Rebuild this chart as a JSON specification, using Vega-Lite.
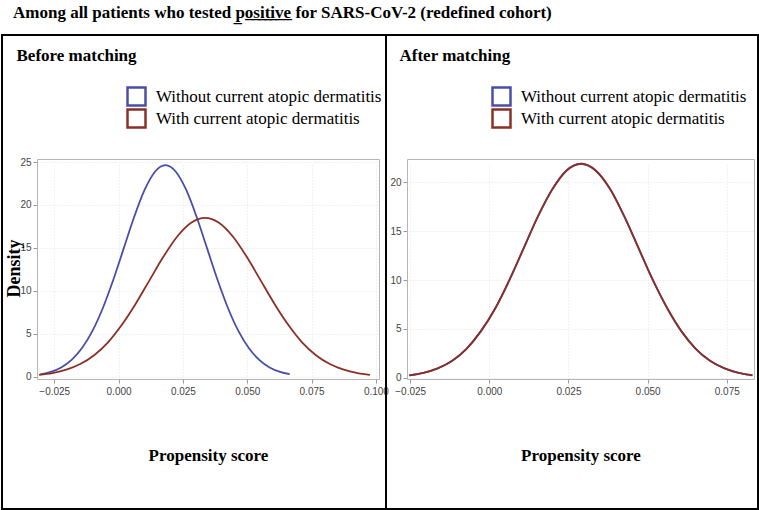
{
  "$schema": "https://vega.github.io/schema/vega-lite/v6.json",
  "background": "white",
  "padding": {"left": 1, "top": 4, "right": 0, "bottom": 0},
  "bounds": "flush",
  "title": {"text": "Among all patients who tested p\u0332o\u0332s\u0332i\u0332t\u0332i\u0332v\u0332e\u0332 for SARS-CoV-2 (redefined cohort)", "anchor": "start", "frame": "group", "dx": 11, "offset": 12, "font": "Liberation Serif", "fontSize": 17, "fontWeight": "bold", "color": "black"},
  "datasets": {
    "before": [
      {"group": "Without current atopic dermatitis", "ps": -0.0304, "density": 0.27},
      {"group": "Without current atopic dermatitis", "ps": -0.02635, "density": 0.56},
      {"group": "Without current atopic dermatitis", "ps": -0.0223, "density": 1.08},
      {"group": "Without current atopic dermatitis", "ps": -0.01825, "density": 1.96},
      {"group": "Without current atopic dermatitis", "ps": -0.0142, "density": 3.33},
      {"group": "Without current atopic dermatitis", "ps": -0.01015, "density": 5.33},
      {"group": "Without current atopic dermatitis", "ps": -0.0061, "density": 8.0},
      {"group": "Without current atopic dermatitis", "ps": -0.00205, "density": 11.28},
      {"group": "Without current atopic dermatitis", "ps": 0.002, "density": 14.94},
      {"group": "Without current atopic dermatitis", "ps": 0.00605, "density": 18.59},
      {"group": "Without current atopic dermatitis", "ps": 0.0101, "density": 21.74},
      {"group": "Without current atopic dermatitis", "ps": 0.01415, "density": 23.87},
      {"group": "Without current atopic dermatitis", "ps": 0.0182, "density": 24.63},
      {"group": "Without current atopic dermatitis", "ps": 0.02225, "density": 23.87},
      {"group": "Without current atopic dermatitis", "ps": 0.0263, "density": 21.74},
      {"group": "Without current atopic dermatitis", "ps": 0.03035, "density": 18.59},
      {"group": "Without current atopic dermatitis", "ps": 0.0344, "density": 14.94},
      {"group": "Without current atopic dermatitis", "ps": 0.03845, "density": 11.28},
      {"group": "Without current atopic dermatitis", "ps": 0.0425, "density": 8.0},
      {"group": "Without current atopic dermatitis", "ps": 0.04655, "density": 5.33},
      {"group": "Without current atopic dermatitis", "ps": 0.0506, "density": 3.33},
      {"group": "Without current atopic dermatitis", "ps": 0.05465, "density": 1.96},
      {"group": "Without current atopic dermatitis", "ps": 0.0587, "density": 1.08},
      {"group": "Without current atopic dermatitis", "ps": 0.06275, "density": 0.56},
      {"group": "Without current atopic dermatitis", "ps": 0.0665, "density": 0.29},
      {"group": "With current atopic dermatitis", "ps": -0.0309, "density": 0.22},
      {"group": "With current atopic dermatitis", "ps": -0.0257, "density": 0.42},
      {"group": "With current atopic dermatitis", "ps": -0.0203, "density": 0.81},
      {"group": "With current atopic dermatitis", "ps": -0.0149, "density": 1.47},
      {"group": "With current atopic dermatitis", "ps": -0.0095, "density": 2.5},
      {"group": "With current atopic dermatitis", "ps": -0.0041, "density": 4.0},
      {"group": "With current atopic dermatitis", "ps": 0.0012, "density": 6.01},
      {"group": "With current atopic dermatitis", "ps": 0.0066, "density": 8.47},
      {"group": "With current atopic dermatitis", "ps": 0.012, "density": 11.22},
      {"group": "With current atopic dermatitis", "ps": 0.0174, "density": 13.96},
      {"group": "With current atopic dermatitis", "ps": 0.0228, "density": 16.33},
      {"group": "With current atopic dermatitis", "ps": 0.0282, "density": 17.93},
      {"group": "With current atopic dermatitis", "ps": 0.0336, "density": 18.5},
      {"group": "With current atopic dermatitis", "ps": 0.039, "density": 17.93},
      {"group": "With current atopic dermatitis", "ps": 0.0444, "density": 16.33},
      {"group": "With current atopic dermatitis", "ps": 0.0498, "density": 13.96},
      {"group": "With current atopic dermatitis", "ps": 0.0552, "density": 11.22},
      {"group": "With current atopic dermatitis", "ps": 0.0606, "density": 8.47},
      {"group": "With current atopic dermatitis", "ps": 0.066, "density": 6.01},
      {"group": "With current atopic dermatitis", "ps": 0.0713, "density": 4.0},
      {"group": "With current atopic dermatitis", "ps": 0.0767, "density": 2.5},
      {"group": "With current atopic dermatitis", "ps": 0.0821, "density": 1.47},
      {"group": "With current atopic dermatitis", "ps": 0.0875, "density": 0.81},
      {"group": "With current atopic dermatitis", "ps": 0.0929, "density": 0.42},
      {"group": "With current atopic dermatitis", "ps": 0.0977, "density": 0.22}
    ],
    "after": [
      {"group": "Without current atopic dermatitis", "ps": -0.0253, "density": 0.24},
      {"group": "Without current atopic dermatitis", "ps": -0.0208, "density": 0.5},
      {"group": "Without current atopic dermatitis", "ps": -0.0163, "density": 0.96},
      {"group": "Without current atopic dermatitis", "ps": -0.0117, "density": 1.74},
      {"group": "Without current atopic dermatitis", "ps": -0.0072, "density": 2.96},
      {"group": "Without current atopic dermatitis", "ps": -0.0027, "density": 4.74},
      {"group": "Without current atopic dermatitis", "ps": 0.0019, "density": 7.11},
      {"group": "Without current atopic dermatitis", "ps": 0.0064, "density": 10.03},
      {"group": "Without current atopic dermatitis", "ps": 0.0109, "density": 13.28},
      {"group": "Without current atopic dermatitis", "ps": 0.0154, "density": 16.53},
      {"group": "Without current atopic dermatitis", "ps": 0.02, "density": 19.33},
      {"group": "Without current atopic dermatitis", "ps": 0.0245, "density": 21.23},
      {"group": "Without current atopic dermatitis", "ps": 0.029, "density": 21.9},
      {"group": "Without current atopic dermatitis", "ps": 0.0335, "density": 21.23},
      {"group": "Without current atopic dermatitis", "ps": 0.0381, "density": 19.33},
      {"group": "Without current atopic dermatitis", "ps": 0.0426, "density": 16.53},
      {"group": "Without current atopic dermatitis", "ps": 0.0471, "density": 13.28},
      {"group": "Without current atopic dermatitis", "ps": 0.0516, "density": 10.03},
      {"group": "Without current atopic dermatitis", "ps": 0.0562, "density": 7.11},
      {"group": "Without current atopic dermatitis", "ps": 0.0607, "density": 4.74},
      {"group": "Without current atopic dermatitis", "ps": 0.0652, "density": 2.96},
      {"group": "Without current atopic dermatitis", "ps": 0.0697, "density": 1.74},
      {"group": "Without current atopic dermatitis", "ps": 0.0743, "density": 0.96},
      {"group": "Without current atopic dermatitis", "ps": 0.0788, "density": 0.5},
      {"group": "Without current atopic dermatitis", "ps": 0.0831, "density": 0.25},
      {"group": "With current atopic dermatitis", "ps": -0.0253, "density": 0.24},
      {"group": "With current atopic dermatitis", "ps": -0.0208, "density": 0.5},
      {"group": "With current atopic dermatitis", "ps": -0.0163, "density": 0.96},
      {"group": "With current atopic dermatitis", "ps": -0.0117, "density": 1.74},
      {"group": "With current atopic dermatitis", "ps": -0.0072, "density": 2.96},
      {"group": "With current atopic dermatitis", "ps": -0.0027, "density": 4.74},
      {"group": "With current atopic dermatitis", "ps": 0.0019, "density": 7.11},
      {"group": "With current atopic dermatitis", "ps": 0.0064, "density": 10.03},
      {"group": "With current atopic dermatitis", "ps": 0.0109, "density": 13.28},
      {"group": "With current atopic dermatitis", "ps": 0.0154, "density": 16.53},
      {"group": "With current atopic dermatitis", "ps": 0.02, "density": 19.33},
      {"group": "With current atopic dermatitis", "ps": 0.0245, "density": 21.23},
      {"group": "With current atopic dermatitis", "ps": 0.029, "density": 21.9},
      {"group": "With current atopic dermatitis", "ps": 0.0335, "density": 21.23},
      {"group": "With current atopic dermatitis", "ps": 0.0381, "density": 19.33},
      {"group": "With current atopic dermatitis", "ps": 0.0426, "density": 16.53},
      {"group": "With current atopic dermatitis", "ps": 0.0471, "density": 13.28},
      {"group": "With current atopic dermatitis", "ps": 0.0516, "density": 10.03},
      {"group": "With current atopic dermatitis", "ps": 0.0562, "density": 7.11},
      {"group": "With current atopic dermatitis", "ps": 0.0607, "density": 4.74},
      {"group": "With current atopic dermatitis", "ps": 0.0652, "density": 2.96},
      {"group": "With current atopic dermatitis", "ps": 0.0697, "density": 1.74},
      {"group": "With current atopic dermatitis", "ps": 0.0743, "density": 0.96},
      {"group": "With current atopic dermatitis", "ps": 0.0788, "density": 0.5},
      {"group": "With current atopic dermatitis", "ps": 0.0831, "density": 0.25}
    ]
  },
  "spacing": 0,
  "hconcat": [
    {
      "width": 384,
      "height": 474,
      "data": {"name": "before"},
      "layer": [
        {
          "mark": {"type": "line", "strokeWidth": 1.8, "interpolate": "monotone"},
          "encoding": {
            "x": {"field": "ps", "type": "quantitative",
              "scale": {"domain": [-0.0317, 0.1012], "range": [35, 377], "nice": false, "zero": false},
              "axis": {"orient": "bottom", "offset": -130, "values": [-0.025, 0, 0.025, 0.05, 0.075, 0.1], "format": ".3f",
                "grid": true, "gridColor": "#e2e2e2", "gridDash": [1, 2], "domainColor": "#b5b5b5", "tickColor": "#999999", "tickSize": 4,
                "labelFont": "Liberation Sans", "labelFontSize": 10, "labelColor": "#444444", "labelPadding": 3,
                "title": "Propensity score", "titleFont": "Liberation Serif", "titleFontSize": 17, "titleFontWeight": "bold", "titleColor": "black", "titleY": 81, "titleBaseline": "alphabetic"}},
            "y": {"field": "density", "type": "quantitative",
              "scale": {"domain": [-0.27, 25.35], "range": [344, 124], "nice": false, "zero": false},
              "axis": {"orient": "left", "offset": -35, "values": [0, 5, 10, 15, 20, 25], "format": "d",
                "grid": true, "gridColor": "#e2e2e2", "gridDash": [1, 2], "domainColor": "#b5b5b5", "tickColor": "#999999", "tickSize": 4,
                "labelFont": "Liberation Sans", "labelFontSize": 10, "labelColor": "#444444", "labelPadding": 2,
                "title": "Density", "titleFont": "Liberation Serif", "titleFontSize": 18, "titleFontWeight": "bold", "titleColor": "black", "titleX": -18, "titleY": 233, "titleAngle": -90, "titleAlign": "center", "titleBaseline": "alphabetic"}},
            "color": {"field": "group", "type": "nominal",
              "scale": {"domain": ["Without current atopic dermatitis", "With current atopic dermatitis"], "range": ["#4a4ea6", "#8a3026"]},
              "legend": {"orient": "none", "legendX": 124, "legendY": 51, "title": null, "padding": 0, "symbolType": "square", "symbolSize": 324, "symbolStrokeWidth": 2.5, "symbolFillColor": "transparent", "labelFont": "Liberation Serif", "labelFontSize": 17, "labelColor": "black", "labelOffset": 9, "labelLimit": 400, "clipHeight": 21, "rowPadding": 1}}
          }
        },
        {
          "mark": {"type": "point", "opacity": 0},
          "encoding": {
            "x": {"field": "ps", "type": "quantitative", "axis": {"orient": "top", "offset": -124, "labels": false, "ticks": false, "grid": false, "domainColor": "#b5b5b5",
              "title": "Before matching", "titleFont": "Liberation Serif", "titleFontSize": 17, "titleFontWeight": "bold", "titleColor": "black", "titleX": 14, "titleY": -99, "titleAlign": "left", "titleBaseline": "alphabetic"}},
            "y": {"field": "density", "type": "quantitative", "axis": {"orient": "right", "offset": -7, "labels": false, "ticks": false, "grid": false, "title": null, "domainColor": "#b5b5b5"}}
          }
        }
      ],
      "resolve": {"axis": {"x": "independent", "y": "independent"}}
    },
    {
      "width": 372,
      "height": 474,
      "data": {"name": "after"},
      "layer": [
        {
          "mark": {"type": "line", "strokeWidth": 1.8, "interpolate": "monotone"},
          "encoding": {
            "x": {"field": "ps", "type": "quantitative",
              "scale": {"domain": [-0.026, 0.0836], "range": [21, 368], "nice": false, "zero": false},
              "axis": {"orient": "bottom", "offset": -130, "values": [-0.025, 0, 0.025, 0.05, 0.075], "format": ".3f",
                "grid": true, "gridColor": "#e2e2e2", "gridDash": [1, 2], "domainColor": "#b5b5b5", "tickColor": "#999999", "tickSize": 4,
                "labelFont": "Liberation Sans", "labelFontSize": 10, "labelColor": "#444444", "labelPadding": 3,
                "title": "Propensity score", "titleFont": "Liberation Serif", "titleFontSize": 17, "titleFontWeight": "bold", "titleColor": "black", "titleY": 81, "titleBaseline": "alphabetic"}},
            "y": {"field": "density", "type": "quantitative",
              "scale": {"domain": [-0.133, 22.385], "range": [344, 124], "nice": false, "zero": false},
              "axis": {"orient": "left", "offset": -21, "values": [0, 5, 10, 15, 20], "format": "d",
                "grid": true, "gridColor": "#e2e2e2", "gridDash": [1, 2], "domainColor": "#b5b5b5", "tickColor": "#999999", "tickSize": 4,
                "labelFont": "Liberation Sans", "labelFontSize": 10, "labelColor": "#444444", "labelPadding": 2, "title": null}},
            "color": {"field": "group", "type": "nominal",
              "scale": {"domain": ["Without current atopic dermatitis", "With current atopic dermatitis"], "range": ["#4a4ea6", "#8a3026"]},
              "legend": {"orient": "none", "legendX": 105, "legendY": 51, "title": null, "padding": 0, "symbolType": "square", "symbolSize": 324, "symbolStrokeWidth": 2.5, "symbolFillColor": "transparent", "labelFont": "Liberation Serif", "labelFontSize": 17, "labelColor": "black", "labelOffset": 9, "labelLimit": 400, "clipHeight": 21, "rowPadding": 1}}
          }
        },
        {
          "mark": {"type": "point", "opacity": 0},
          "encoding": {
            "x": {"field": "ps", "type": "quantitative", "axis": {"orient": "top", "offset": -124, "labels": false, "ticks": false, "grid": false, "domainColor": "#b5b5b5",
              "title": "After matching", "titleFont": "Liberation Serif", "titleFontSize": 17, "titleFontWeight": "bold", "titleColor": "black", "titleX": 13, "titleY": -99, "titleAlign": "left", "titleBaseline": "alphabetic"}},
            "y": {"field": "density", "type": "quantitative", "axis": {"orient": "right", "offset": -4, "labels": false, "ticks": false, "grid": false, "title": null, "domainColor": "#b5b5b5"}}
          }
        }
      ],
      "resolve": {"axis": {"x": "independent", "y": "independent"}}
    }
  ],
  "resolve": {"scale": {"x": "independent", "y": "independent", "color": "independent"}, "axis": {"x": "independent", "y": "independent"}, "legend": {"color": "independent"}},
  "config": {
    "view": {"stroke": "black", "strokeWidth": 2},
    "axis": {"domainWidth": 1, "tickWidth": 1}
  }
}
